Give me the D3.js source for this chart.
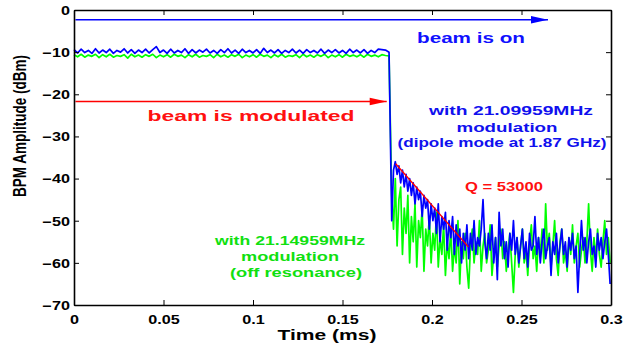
<!DOCTYPE html>
<html><head><meta charset="utf-8">
<script src="https://cdn.jsdelivr.net/npm/d3@7"></script>
<style>body{margin:0;background:#fff}svg{display:block}</style>
</head><body><svg id="c" width="639" height="345"></svg>
<script>
// ---------------- data ----------------
const xTicks = [0, 0.05, 0.1, 0.15, 0.2, 0.25, 0.3];
const yTicks = [-70, -60, -50, -40, -30, -20, -10, 0];

// flat (pre-drop) section, sampled every 0.002 ms from t = 0
const flatStep = 0.002;
const blueFlat = [
 -9.4,-10.2,-9.3,-10.1,-9.6,-10.3,-9.2,-10.2,-9.5,-10.1,
 -9.3,-10.3,-9.6,-10.0,-9.2,-10.2,-9.4,-10.3,-9.5,-10.1,
 -9.3,-10.2,-9.4,-8.7,-10.1,-9.5,-10.3,-9.3,-10.2,-9.6,
 -10.1,-9.2,-10.3,-9.4,-10.2,-9.5,-10.0,-9.3,-10.2,-9.6,
 -10.3,-9.4,-10.1,-9.2,-10.2,-9.5,-10.3,-9.3,-10.1,-9.6,
 -10.2,-9.4,-10.3,-9.1,-10.1,-9.5,-10.2,-9.4,-10.3,-9.6,
 -10.1,-9.3,-10.2,-9.5,-10.3,-9.4,-10.1,-9.6,-10.2,-9.3,
 -10.3,-9.5,-10.1,-9.4,-10.2,-9.6,-10.3,-9.3,-10.1,-9.5,
 -10.2,-9.4,-10.3,-9.6,-10.1,-9.3,-9.4,-9.5,-10.0];
const greenFlat = [
 -10.6,-11.1,-10.5,-11.2,-10.7,-11.0,-10.5,-11.3,-10.6,-11.1,
 -10.5,-11.2,-10.8,-11.0,-10.6,-11.4,-10.5,-11.1,-10.7,-11.2,
 -10.6,-11.0,-10.5,-11.3,-10.7,-11.1,-10.6,-11.2,-10.5,-11.0,
 -10.7,-11.3,-10.6,-11.1,-10.5,-11.2,-10.8,-11.0,-10.6,-11.3,
 -10.5,-11.1,-10.7,-11.2,-10.6,-11.0,-10.5,-11.3,-10.7,-11.1,
 -10.6,-11.2,-10.5,-11.0,-10.7,-11.3,-10.6,-11.1,-10.5,-11.2,
 -10.8,-11.0,-10.6,-11.3,-10.5,-11.1,-10.7,-11.2,-10.6,-11.0,
 -10.5,-11.3,-10.7,-11.1,-10.6,-11.2,-10.5,-11.0,-10.7,-11.1,
 -10.6,-11.2,-10.5,-11.0,-10.7,-11.1,-10.6,-10.8,-10.9];

// post-drop section, sampled every 0.001 ms from t = 0.1775
const tailStart = 0.1775;
const tailStep = 0.001;
const blueTail = [
 -50,-38,-36,-39,-37,-41,-38,-42,-39,-43,
 -40,-44,-41,-46,-42,-45,-43,-49,-44,-47,
 -45,-52,-46,-50,-47,-53,-46,-55,-49,-52,
 -48,-57,-50,-54,-49,-58,-51,-56,-52,-60,
 -53,-57,-51,-59,-53,-57,-50,-58,-54,-56,
 -52,-45,-55,-59,-53,-57,-51,-60,-54,-64,
 -48,-56,-52,-59,-55,-61,-53,-57,-50,-58,
 -54,-60,-56,-52,-59,-55,-61,-53,-57,-56,
 -49,-58,-54,-60,-55,-52,-59,-56,-54,-63,
 -55,-58,-53,-60,-56,-52,-58,-55,-61,-54,
 -57,-53,-59,-56,-67,-58,-50,-57,-54,-60,
 -55,-52,-58,-56,-61,-53,-57,-54,-59,-55,
 -52,-58,-65];
const greenTail = [
 -44,-52,-40,-56,-45,-42,-58,-47,-53,-44,
 -60,-49,-55,-46,-61,-50,-54,-47,-62,-52,
 -56,-49,-60,-53,-57,-48,-61,-54,-58,-51,
 -63,-55,-59,-52,-62,-56,-60,-50,-65,-55,
 -59,-53,-61,-66,-56,-52,-60,-55,-58,-50,
 -62,-56,-53,-60,-57,-51,-63,-58,-54,-61,
 -56,-52,-59,-55,-62,-57,-53,-60,-67,-58,
 -54,-61,-56,-52,-60,-57,-63,-55,-51,-59,
 -56,-62,-54,-58,-52,-60,-46,-57,-53,-61,
 -56,-50,-59,-63,-55,-52,-60,-57,-62,-54,
 -58,-51,-60,-56,-53,-61,-57,-54,-60,-55,
 -46,-57,-62,-54,-59,-52,-58,-61,-55,-50,
 -58,-54,-60];

const fitLine = [[0.1797, -36.5], [0.2203, -56.2]];
const beamOnArrow = [[0.0008, -2.3], [0.2648, -2.3]];
const modulatedArrow = [[0.0008, -21.7], [0.1747, -21.7]];

// annotation texts (text, center x, baseline y, font size, drawn width, colour)
const labels = [
  {t:"beam is on", x:471, y:43, s:15, w:108, c:"#1010ff"},
  {t:"beam is modulated", x:251, y:121, s:15, w:207, c:"#ff1010"},
  {t:"with 21.09959MHz", x:511, y:115, s:13.5, w:164, c:"#1010ee"},
  {t:"modulation", x:507, y:131.5, s:13.5, w:101, c:"#1010ee"},
  {t:"(dipole mode at 1.87 GHz)", x:502, y:147, s:13.5, w:209, c:"#1010ee"},
  {t:"Q = 53000", x:504, y:190.5, s:12, w:78, c:"#ff1010"},
  {t:"with 21.14959MHz", x:290, y:245, s:13.5, w:150, c:"#10e010"},
  {t:"modulation", x:290, y:261, s:13.5, w:98, c:"#10e010"},
  {t:"(off resonance)", x:296, y:277, s:13.5, w:132, c:"#10e010"}
];

// ---------------- drawing ----------------
const svg = d3.select("#c");
const L = 74, R = 611, T = 10, B = 305;
const x = d3.scaleLinear().domain([0, 0.3]).range([L, R]);
const y = d3.scaleLinear().domain([-70, 0]).range([B, T]);
const FONT = "'Liberation Sans', Arial, Helvetica, sans-serif";
const SX = 1.35;

const line = d3.line().x(d => x(d[0])).y(d => y(d[1]));
const series = (flat, tail) =>
  flat.map((v, i) => [i * flatStep, v]).concat(tail.map((v, i) => [tailStart + i * tailStep, v]));

svg.append("path").datum(series(greenFlat, greenTail))
  .attr("d", line).attr("fill", "none").attr("stroke", "#00ff00").attr("stroke-width", 1.7)
  .attr("stroke-linejoin", "round");
svg.append("path").datum(series(blueFlat, blueTail))
  .attr("d", line).attr("fill", "none").attr("stroke", "#0000ff").attr("stroke-width", 1.7)
  .attr("stroke-linejoin", "round");

svg.append("path").datum(fitLine).attr("d", line).attr("fill", "none")
  .attr("stroke", "#ff0000").attr("stroke-width", 1.4);

function arrow(pts, col) {
  svg.append("path").datum([pts[0], [pts[1][0], pts[1][1]]]).attr("d", line)
    .attr("fill", "none").attr("stroke", col).attr("stroke-width", 1.4);
  const tx = x(pts[1][0]), ty = y(pts[1][1]);
  svg.append("path").attr("d", `M${tx},${ty}L${tx - 17},${ty - 3.8}L${tx - 17},${ty + 3.8}Z`)
    .attr("fill", col).attr("stroke", "none");
}
arrow(beamOnArrow, "#0000ff");
arrow(modulatedArrow, "#ff0000");

// axes (MATLAB box with inward ticks)
const fmtY = d => d < 0 ? "\u2212" + Math.abs(d) : "0";
const gB = svg.append("g").attr("transform", `translate(0,${B})`)
  .call(d3.axisBottom(x).tickValues(xTicks).tickSizeInner(-5).tickSizeOuter(0).tickFormat(d => String(d)));
const gT = svg.append("g").attr("transform", `translate(0,${T})`)
  .call(d3.axisTop(x).tickValues(xTicks).tickSizeInner(-5).tickSizeOuter(0).tickFormat(""));
const gL = svg.append("g").attr("transform", `translate(${L},0)`)
  .call(d3.axisLeft(y).tickValues(yTicks).tickSizeInner(-5).tickSizeOuter(0).tickFormat(fmtY));
const gR = svg.append("g").attr("transform", `translate(${R},0)`)
  .call(d3.axisRight(y).tickValues(yTicks).tickSizeInner(-5).tickSizeOuter(0).tickFormat(""));
[gB, gT, gL, gR].forEach(g => {
  g.select(".domain").attr("stroke", "#000").attr("stroke-width", 1.6);
  g.selectAll(".tick line").attr("stroke", "#000").attr("stroke-width", 1);
});
gB.selectAll(".tick text").attr("x", null).attr("y", null).attr("dy", null)
  .attr("transform", "translate(0,18.5) scale(" + SX + ",1)")
  .attr("font-family", FONT).attr("font-weight", "bold").attr("font-size", 12).attr("fill", "#000");
gL.selectAll(".tick text").attr("x", null).attr("dy", null)
  .attr("transform", "translate(-4,4.3) scale(" + SX + ",1)")
  .attr("font-family", FONT).attr("font-weight", "bold").attr("font-size", 12).attr("fill", "#000");

svg.append("text").text("Time (ms)")
  .attr("x", 327).attr("y", 339.5).attr("text-anchor", "middle")
  .attr("font-family", FONT).attr("font-weight", "bold").attr("font-size", 14.5)
  .attr("textLength", 99).attr("lengthAdjust", "spacingAndGlyphs");
svg.append("text").text("BPM Amplitude (dBm)")
  .attr("transform", "translate(26,126) scale(1.35,1) rotate(-90)").attr("text-anchor", "middle")
  .attr("font-family", FONT).attr("font-weight", "bold").attr("font-size", 13.5)
  .attr("textLength", 142).attr("lengthAdjust", "spacingAndGlyphs");

svg.selectAll("text.ann").data(labels).enter().append("text").attr("class", "ann")
  .text(d => d.t).attr("x", d => d.x).attr("y", d => d.y).attr("text-anchor", "middle")
  .attr("font-family", FONT).attr("font-weight", "bold").attr("font-size", d => d.s)
  .attr("fill", d => d.c).attr("textLength", d => d.w).attr("lengthAdjust", "spacingAndGlyphs");
</script>
</body></html>
